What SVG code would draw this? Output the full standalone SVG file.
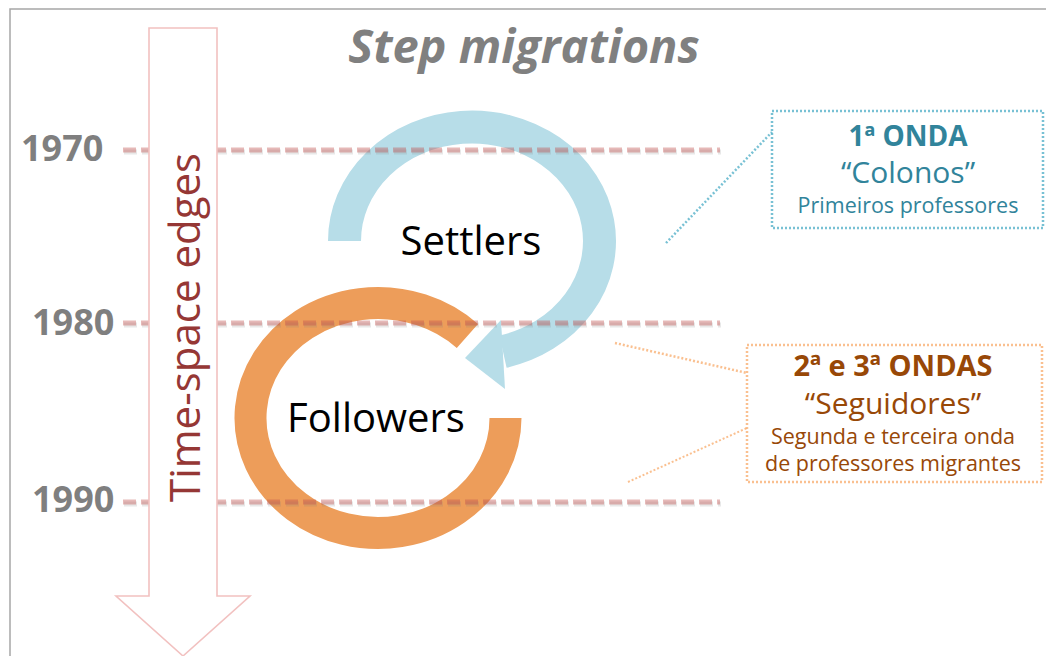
<svg xmlns="http://www.w3.org/2000/svg" width="1046" height="656" viewBox="0 0 1046 656">
<style>
.yr{font-family:"Open Sans","Liberation Sans",sans-serif;font-weight:bold;font-size:36px;fill:#7f7f7f}
.dash{fill:none;stroke:#C0504D;stroke-opacity:0.4;stroke-width:5;stroke-dasharray:13 5}
.dsh{fill:none;stroke:#808080;stroke-opacity:0.18;stroke-width:5;stroke-dasharray:13 5}
.lbl{font-family:"Open Sans","Liberation Sans",sans-serif;font-size:40px;fill:#000;text-anchor:middle}
.t1{font-family:"Open Sans","Liberation Sans",sans-serif;text-anchor:middle}
</style>
<rect x="10" y="9" width="1060" height="680" fill="#fff" stroke="#a6a6a6" stroke-width="1.5"/>

<g id="title"><text x="524" y="63" font-family="Open Sans, Liberation Sans, sans-serif" font-size="47" font-weight="bold" font-style="italic" fill="#808080" text-anchor="middle">Step migrations</text></g>

<g id="followers">
<path d="M467.4 336 A127.5 115 0 1 0 505.5 418" fill="none" stroke="#fff" stroke-width="36"/>
<path d="M467.4 336 A127.5 115 0 1 0 505.5 418" fill="none" stroke="#ED9D5A" stroke-width="32"/>
<text class="lbl" x="376" y="432">Followers</text>
</g>

<g id="settlers">
<path d="M344.5 241 A127.5 114 0 1 1 503 351.6" fill="none" stroke="#fff" stroke-width="37"/>
<polygon points="501,320 465,358 505,389" fill="#fff" stroke="#fff" stroke-width="4" stroke-linejoin="round"/>
<path d="M344.5 241 A127.5 114 0 1 1 503 351.6" fill="none" stroke="#B7DDE8" stroke-width="33"/>
<polygon points="501,320 465,358 505,389" fill="#B7DDE8"/>
<text class="lbl" x="471" y="255">Settlers</text>
</g>

<g id="connectors">
<g id="timelines">
<line class="dsh" x1="124" y1="152" x2="721" y2="152"/>
<line class="dsh" x1="124" y1="325" x2="721" y2="325"/>
<line class="dsh" x1="124" y1="504" x2="721" y2="504"/>
<line class="dash" x1="123" y1="150" x2="720" y2="150"/>
<line class="dash" x1="123" y1="323" x2="720" y2="323"/>
<line class="dash" x1="123" y1="502" x2="720" y2="502"/>
</g>
<line x1="666" y1="243" x2="772" y2="132" stroke="#4BACC6" stroke-opacity="0.75" stroke-width="2.5" stroke-dasharray="2 2"/>
<line x1="615" y1="343" x2="747" y2="373" stroke="#F79646" stroke-opacity="0.6" stroke-width="2.5" stroke-dasharray="2 2"/>
<line x1="628" y1="482" x2="747" y2="428" stroke="#F79646" stroke-opacity="0.6" stroke-width="2" stroke-dasharray="2 2"/>
</g>

<g id="years">
<text class="yr" x="21" y="161">1970</text>
<text class="yr" x="32" y="335">1980</text>
<text class="yr" x="32" y="512">1990</text>
</g>

<g id="time-arrow">
<polygon points="149,28 217,28 217,596 250,596 183,656 116,596 149,596" fill="#fff" stroke="#F2C1C0" stroke-width="1.6"/>
<text transform="translate(200,502) rotate(-90)" font-family="Open Sans, Liberation Sans, sans-serif" font-size="42" fill="#953735">Time-space edges</text>
</g>

<g id="wave1">
<rect x="772" y="111" width="271" height="117" fill="none" stroke="#4BACC6" stroke-opacity="0.75" stroke-width="2.5" stroke-dasharray="2 2"/>
<text class="t1" x="908" y="146" font-size="28" font-weight="bold" fill="#31849B">1ª ONDA</text>
<text class="t1" x="908" y="183" font-size="30" fill="#31849B">“Colonos”</text>
<text class="t1" x="908" y="213" font-size="21.5" fill="#31849B">Primeiros professores</text>
</g>

<g id="wave2">
<rect x="747" y="345" width="295" height="137" fill="none" stroke="#F79646" stroke-opacity="0.6" stroke-width="2.5" stroke-dasharray="2 2"/>
<text class="t1" x="893" y="376" font-size="29" font-weight="bold" fill="#984807">2ª e 3ª ONDAS</text>
<text class="t1" x="893" y="414" font-size="30" fill="#984807">“Seguidores”</text>
<text class="t1" x="893" y="444" font-size="21.5" fill="#984807">Segunda e terceira onda</text>
<text class="t1" x="893" y="471" font-size="21.5" fill="#984807">de professores migrantes</text>
</g>
</svg>
